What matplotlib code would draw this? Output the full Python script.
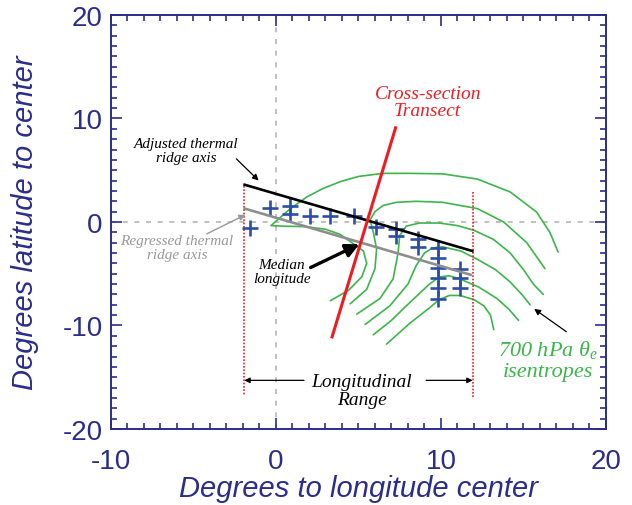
import numpy as np
import matplotlib
matplotlib.use('Agg')
import matplotlib.pyplot as plt

plt.rcParams['axes.unicode_minus'] = False
plt.rcParams['mathtext.fontset'] = 'custom'
plt.rcParams['mathtext.it'] = 'Liberation Serif:italic'
plt.rcParams['mathtext.rm'] = 'Liberation Serif'

# ridge-axis points (degrees lon, lat relative to center)
ridge_lon = [-1.6, -0.35, 0.85, 0.85, 2.05, 3.3, 4.7, 6.05, 7.3, 7.3, 8.6, 8.6,
             9.85, 9.85, 9.85, 9.85, 9.85, 9.85, 11.15, 11.15, 11.15]
ridge_lat = [-0.6, 1.4, 1.55, 0.75, 0.55, 0.55, 0.6, -0.45, -0.65, -1.4, -1.6, -2.4,
             -2.5, -3.5, -4.45, -5.4, -6.4, -7.4, -4.5, -5.4, -6.4]

# thermal ridge axes (end points)
adjusted_lon = [-1.9, 11.9]
adjusted_lat = [3.6, -2.8]
regressed_lon = [-1.9, 11.8]
regressed_lat = [1.3, -5.1]

# cross-section transect
transect_lon = [3.4, 7.25]
transect_lat = [-11.1, 9.1]

# longitudinal range
range_lon = [-1.92, 11.92]
range_top = [3.5, 2.9]
range_bottom = [-16.8, -17.0]

# 700 hPa theta-e isentropes, traced
iso1_lon = [3.3, 4.4, 5.2, 5.5, 5.3, 4.6, 3.9, 3.0, 1.8, 0.4, -0.3, 0.3, 0.85, 1.85, 2.8,
            3.9, 5.0, 6.5, 8.1, 10.1, 12.2, 14.2, 15.8, 16.6, 17.1]
iso1_lat = [-7.6, -6.6, -5.3, -4.0, -2.8, -2.0, -1.2, -0.7, -0.45, -0.4, -0.35, 0.5, 1.25, 2.4, 3.2,
            3.9, 4.4, 4.7, 4.7, 4.65, 4.15, 2.9, 0.95, -1.0, -2.9]
iso2_lon = [4.5, 5.5, 6.0, 6.1, 5.9, 5.7, 6.0, 6.5, 7.3, 8.5, 10.1, 12.2, 13.8, 15.2, 16.3]
iso2_lat = [-7.9, -6.5, -4.5, -2.6, -1.0, 0.2, 1.0, 1.6, 1.9, 2.0, 1.9, 1.3, 0.0, -2.0, -4.5]
iso3_lon = [4.9, 6.3, 7.1, 7.4, 7.5, 7.9, 8.7, 9.9, 11.0, 12.0, 13.2, 14.2, 15.0, 15.6, 16.2]
iso3_lat = [-8.9, -7.4, -5.5, -3.0, -1.3, -0.4, -0.1, -0.1, -0.35, -0.8, -1.7, -3.0, -4.6, -6.0, -7.0]
iso4_lon = [5.4, 6.9, 8.0, 8.5, 9.0, 9.5, 10.1, 11.2, 12.2, 13.3, 14.2, 14.9, 15.4]
iso4_lat = [-9.9, -8.1, -6.0, -4.2, -3.0, -2.5, -2.4, -2.8, -3.6, -4.6, -5.8, -7.0, -8.0]
iso5_lon = [5.9, 7.0, 7.9, 8.7, 9.3, 9.9, 10.5, 11.15, 12.3, 13.4, 14.1, 14.7]
iso5_lat = [-10.9, -9.5, -8.1, -6.9, -6.0, -5.3, -5.2, -5.5, -6.3, -7.4, -8.4, -9.5]
iso6_lon = [6.7, 8.1, 9.3, 9.9, 10.5, 11.15, 12.0, 12.6, 13.0, 13.2]
iso6_lat = [-11.8, -9.8, -8.3, -7.5, -7.1, -7.1, -7.5, -8.1, -9.0, -10.4]

navy = '#2b2d8c'
green = '#3cb54a'
serif = 'Liberation Serif'
sans = 'Liberation Sans'

fig = plt.figure(figsize=(6.32, 5.06), dpi=100)
ax = fig.add_axes([0.1756, 0.1502, 0.7832, 0.8182])

ax.axhline(0, color='#b5b5b5', lw=1.2, ls=(0, (3, 4)), zorder=1)
ax.axvline(0, color='#b5b5b5', lw=1.2, ls=(0, (3, 4)), zorder=1)

isentropes = [(iso1_lon, iso1_lat), (iso2_lon, iso2_lat), (iso3_lon, iso3_lat),
              (iso4_lon, iso4_lat), (iso5_lon, iso5_lat), (iso6_lon, iso6_lat)]
for lon, lat in isentropes:
    ax.plot(lon, lat, color=green, lw=1.2, zorder=2, solid_capstyle='round')

for i in range(2):
    ax.plot([range_lon[i], range_lon[i]], [range_top[i], range_bottom[i]],
            color='#e8202a', lw=1.2, ls=(0, (1, 1)), zorder=3)

ax.plot(ridge_lon, ridge_lat, ls='none', marker='+', ms=12, mew=1.9,
        color='#2c4ea6', zorder=4)

ax.plot(regressed_lon, regressed_lat, color='#8e8e8e', lw=1.9, zorder=5)
ax.plot(adjusted_lon, adjusted_lat, color='black', lw=1.9, zorder=5)
ax.plot(transect_lon, transect_lat, color='#ed1c24', lw=2.2, zorder=6)


def arrow(tail, head, color='black', lw=0.9, size=9):
    ax.annotate('', xy=head, xytext=tail,
                arrowprops=dict(arrowstyle='-|>', color=color, lw=lw,
                                shrinkA=0, shrinkB=0, mutation_scale=size),
                zorder=7)


# annotations
ax.text(-5.45, 6.9, 'Adjusted thermal\nridge axis', ha='center', va='center',
        fontsize=11, family=serif, style='italic', linespacing=1.1)
arrow((-2.4, 6.1), (-1.05, 4.0))
ax.text(-6.0, -2.45, 'Regressed thermal\nridge axis', ha='center', va='center',
        fontsize=11, family=serif, style='italic', color='#999999', linespacing=1.1)
arrow((-4.2, -1.15), (-1.85, 0.7), color='#999999', lw=1.0)
ax.text(0.35, -4.8, 'Median\nlongitude', ha='center', va='center',
        fontsize=11, family=serif, style='italic', linespacing=1.1)
arrow((2.1, -4.4), (5.05, -2.15), lw=2.4, size=20)
ax.text(9.2, 11.6, 'Cross-section\nTransect', ha='center', va='center', fontsize=14,
        family=serif, style='italic', color='#ed1c24', linespacing=1.05)
ax.text(5.2, -16.3, 'Longitudinal\nRange', ha='center', va='center', fontsize=14,
        family=serif, style='italic', color='black', linespacing=1.1)
arrow((1.7, -15.3), (range_lon[0], -15.3), size=8)
arrow((9.1, -15.3), (range_lon[1], -15.3), size=8)
arrow((17.6, -10.6), (15.65, -8.4))
ax.text(16.5, -13.3, '700 hPa θ$_e$\nisentropes', ha='center', va='center',
        fontsize=16, family=serif, style='italic', color=green, linespacing=1.1)

ax.set_xlim(-10, 20)
ax.set_ylim(-20, 20)
ax.set_xticks([-10, 0, 10, 20])
ax.set_yticks([-20, -10, 0, 10, 20])
ax.set_xticks(np.arange(-10, 21, 1), minor=True)
ax.set_yticks(np.arange(-20, 21, 1), minor=True)
ax.tick_params(which='both', direction='in', top=True, right=True, color=navy,
               width=1.2)
ax.tick_params(which='major', length=8)
ax.tick_params(which='minor', length=4)
ax.tick_params(axis='x', which='major', pad=14, labelsize=20, labelcolor=navy)
ax.tick_params(axis='y', which='major', pad=6, labelsize=20, labelcolor=navy)
for lab in ax.get_xticklabels() + ax.get_yticklabels():
    lab.set_family(sans)
for s in ax.spines.values():
    s.set_color(navy)
    s.set_linewidth(1.4)

ax.set_xlabel('Degrees to longitude center', fontsize=21, family=sans,
              style='italic', color=navy, labelpad=0)
ax.set_ylabel('Degrees latitude to center', fontsize=21, family=sans,
              style='italic', color=navy, labelpad=17)

fig.savefig('out.png', dpi=100)
